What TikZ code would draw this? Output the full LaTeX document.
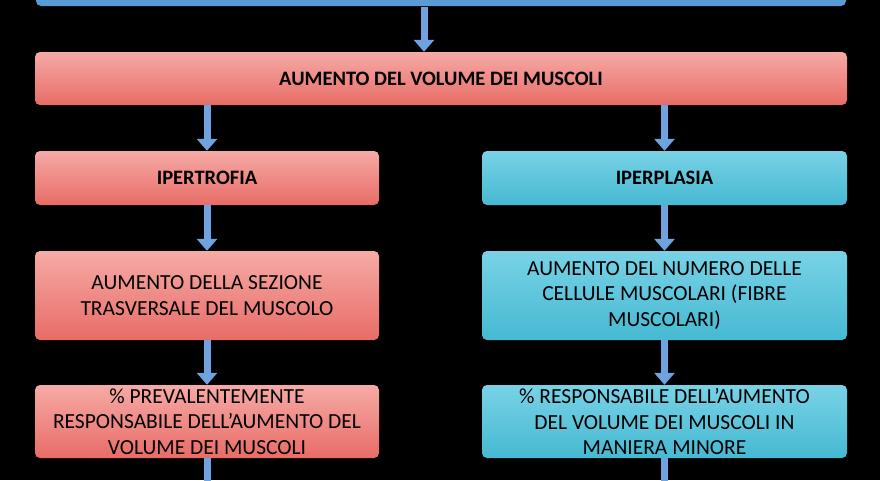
\documentclass[tikz,border=0pt]{standalone}
\usepackage{fontspec}
\setmainfont{Carlito}
\usetikzlibrary{arrows.meta}
\definecolor{topblue}{RGB}{91,155,213}
\definecolor{arrc}{RGB}{111,163,224}
\definecolor{rtop}{RGB}{246,170,166}
\definecolor{rbot}{RGB}{232,108,102}
\definecolor{ctop}{RGB}{120,210,230}
\definecolor{cbot}{RGB}{70,185,210}
\begin{document}
\begin{tikzpicture}[x=1pt,y=-1pt,
 box/.style={rounded corners=5pt,draw=none,align=center,font=\fontsize{21.5}{25.5}\selectfont,text=black,inner sep=0pt},
 red/.style={box,top color=rtop,bottom color=rbot},
 cyan/.style={box,top color=ctop,bottom color=cbot},
 hd/.style={font=\bfseries\fontsize{20.5}{24}\selectfont},
 arr/.style={draw=arrc,line width=7pt,-{Triangle[width=20pt,length=12pt]}}]
\fill[black] (0,0) rectangle (880,480);
\useasboundingbox (0,0) rectangle (880,480);
\clip (0,0) rectangle (880,480);
\fill[topblue,rounded corners=5pt] (36,-40) rectangle (846,6);
\coordinate (t) at (424,7);
\node[red,hd,minimum width=812pt,minimum height=53pt] (m) at (441,78.5) {AUMENTO DEL VOLUME DEI MUSCOLI};
\node[red,hd,minimum width=344pt,minimum height=54pt] (a1) at (207,178) {IPERTROFIA};
\node[cyan,hd,minimum width=365pt,minimum height=54pt] (b1) at (664.5,178) {IPERPLASIA};
\node[red,minimum width=344pt,minimum height=89pt] (a2) at (207,295.5) {AUMENTO DELLA SEZIONE\\TRASVERSALE DEL MUSCOLO};
\node[cyan,minimum width=365pt,minimum height=89pt] (b2) at (664.5,295.5) {AUMENTO DEL NUMERO DELLE\\CELLULE MUSCOLARI (FIBRE\\MUSCOLARI)};
\node[red,minimum width=344pt,minimum height=73pt] (a3) at (207,421.5) {\% PREVALENTEMENTE\\RESPONSABILE DELL’AUMENTO DEL\\VOLUME DEI MUSCOLI};
\node[cyan,minimum width=365pt,minimum height=73pt] (b3) at (664.5,421.5) {\% RESPONSABILE DELL’AUMENTO\\DEL VOLUME DEI MUSCOLI IN\\MANIERA MINORE};
\coordinate (ae) at (207,490); \coordinate (be) at (664.5,490);
\draw[arr] (t) -- (m.north -| t);
\draw[arr] (m.south -| a1) -- (a1.north);
\draw[arr] (m.south -| b1) -- (b1.north);
\draw[arr] (a1.south) -- (a2.north);
\draw[arr] (b1.south) -- (b2.north);
\draw[arr] (a2.south) -- (a3.north);
\draw[arr] (b2.south) -- (b3.north);
\draw[draw=arrc,line width=7pt] (a3.south) -- (ae);
\draw[draw=arrc,line width=7pt] (b3.south) -- (be);
\end{tikzpicture}
\end{document}
